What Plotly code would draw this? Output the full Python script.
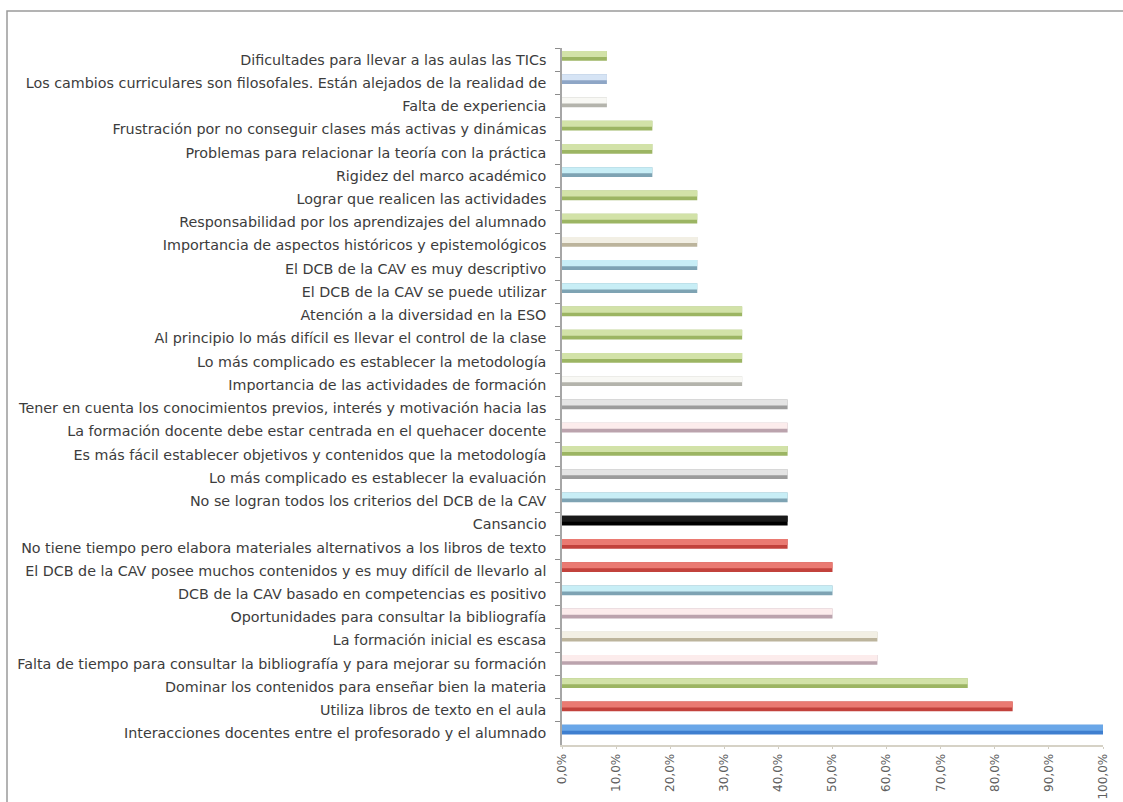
import plotly.graph_objects as go

categories = [
    "Dificultades para llevar a las aulas las TICs",
    "Los cambios curriculares son filosofales. Están alejados de la realidad de",
    "Falta de experiencia",
    "Frustración por no conseguir clases más activas y dinámicas",
    "Problemas para relacionar la teoría con la práctica",
    "Rigidez del marco académico",
    "Lograr que realicen las actividades",
    "Responsabilidad por los aprendizajes del alumnado",
    "Importancia de aspectos históricos y epistemológicos",
    "El DCB de la CAV es muy descriptivo",
    "El DCB de la CAV se puede utilizar",
    "Atención a la diversidad en la ESO",
    "Al principio lo más difícil es llevar el control de la clase",
    "Lo más complicado es establecer la metodología",
    "Importancia de las actividades de formación",
    "Tener en cuenta los conocimientos previos, interés y motivación hacia las",
    "La formación docente debe estar centrada en el quehacer docente",
    "Es más fácil establecer objetivos y contenidos que la metodología",
    "Lo más complicado es establecer la evaluación",
    "No se logran todos los criterios del DCB de la CAV",
    "Cansancio",
    "No tiene tiempo pero elabora materiales alternativos a los libros de texto",
    "El DCB de la CAV posee muchos contenidos y es muy difícil de llevarlo al",
    "DCB de la CAV basado en competencias es positivo",
    "Oportunidades para consultar la bibliografía",
    "La formación inicial es escasa",
    "Falta de tiempo para consultar la bibliografía y para mejorar su formación",
    "Dominar los contenidos para enseñar bien la materia",
    "Utiliza libros de texto en el aula",
    "Interacciones docentes entre el profesorado y el alumnado",
]

values = [
    8.3, 8.3, 8.3,
    16.7, 16.7, 16.7,
    25.0, 25.0, 25.0, 25.0, 25.0,
    33.3, 33.3, 33.3, 33.3,
    41.7, 41.7, 41.7, 41.7, 41.7, 41.7, 41.7,
    50.0, 50.0, 50.0,
    58.3, 58.3,
    75.0,
    83.3,
    100.0,
]

x_ticks = [0, 10, 20, 30, 40, 50, 60, 70, 80, 90, 100]
x_tick_labels = ["0,0%", "10,0%", "20,0%", "30,0%", "40,0%", "50,0%",
                 "60,0%", "70,0%", "80,0%", "90,0%", "100,0%"]

# colour style per bar: (light face, darker edge)
palette = {
    "green": ("#d2e2a8", "#9cb563"),
    "blue_l": ("#d6e4f5", "#8ea6c6"),
    "white": ("#f8f8f4", "#b4b4ac"),
    "cyan": ("#c8eef6", "#7ea3b3"),
    "beige": ("#f2efe4", "#bcb49c"),
    "grey": ("#e4e4e4", "#9c9c9c"),
    "pink": ("#fcecec", "#bba3ad"),
    "black": ("#1a1a1a", "#000000"),
    "red": ("#ea7a72", "#c2423c"),
    "blue": ("#6aa7e8", "#3f7fcf"),
}
bar_styles = [
    "green", "blue_l", "white", "green", "green", "cyan", "green", "green",
    "beige", "cyan", "cyan", "green", "green", "green", "white", "grey",
    "pink", "green", "grey", "cyan", "black", "red", "red", "cyan",
    "pink", "beige", "pink", "green", "red", "blue",
]

edge_cols = [palette[s][1] for s in bar_styles]
face_cols = [palette[s][0] for s in bar_styles]

fig = go.Figure()
fig.add_trace(go.Bar(
    y=categories, x=values, orientation="h",
    marker=dict(color=edge_cols, line=dict(width=0)),
    width=0.42, offset=-0.37, hoverinfo="x+y",
))
fig.add_trace(go.Bar(
    y=categories, x=values, orientation="h",
    marker=dict(color=face_cols, line=dict(width=0)),
    width=0.26, offset=-0.37, hoverinfo="skip",
))

W, H = 1123, 802
L, R, T, B = 562, 20, 48, 57
pw, ph = W - L - R, H - T - B

def px_x(p):
    return (p - L) / pw

def px_y(p):
    return (H - B - p) / ph

fig.update_layout(
    width=W, height=H,
    margin=dict(l=L, r=R, t=T, b=B, autoexpand=False),
    paper_bgcolor="white", plot_bgcolor="white",
    barmode="overlay", showlegend=False,
    font=dict(family="DejaVu Sans, Liberation Sans, sans-serif", color="#404040"),
    shapes=[
        dict(type="rect", xref="paper", yref="paper",
             x0=px_x(7), x1=px_x(1140), y0=px_y(830), y1=px_y(11),
             line=dict(color="#9a9a9a", width=1.5), fillcolor="rgba(0,0,0,0)",
             layer="below"),
    ],
)

fig.update_yaxes(
    type="category", autorange="reversed",
    tickson="boundaries", ticks="outside", ticklen=5, tickcolor="#8c8c8c",
    showline=True, linecolor="#a6a6a6", linewidth=1.5,
    showgrid=False, zeroline=False,
    tickfont=dict(size=14.3, color="#3c3c3c"),
    ticklabelstandoff=11, automargin=False,
)
fig.update_xaxes(
    range=[0, 100], tickmode="array", tickvals=x_ticks, ticktext=x_tick_labels,
    tickangle=-90, ticks="outside", ticklen=2, tickcolor="#d0ccc0",
    showline=True, linecolor="#d6d2c6", linewidth=2,
    showgrid=False, zeroline=False,
    tickfont=dict(size=12, color="#606060"),
    automargin=False,
)

fig.write_html("out.html")
